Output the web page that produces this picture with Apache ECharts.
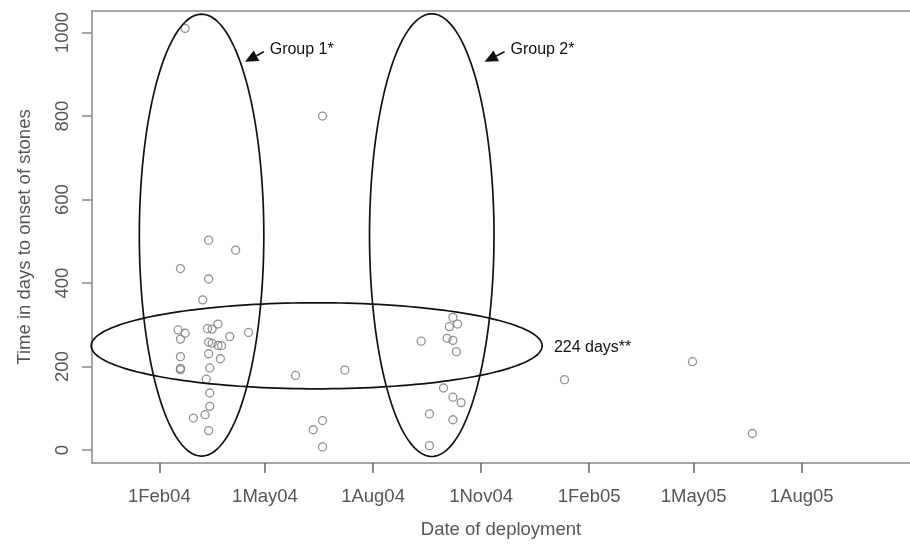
<!DOCTYPE html>
<html><head><meta charset="utf-8">
<script src="https://cdn.jsdelivr.net/npm/echarts@6/dist/echarts.min.js"></script>
<style>html,body{margin:0;padding:0;background:#fff;overflow:hidden}#c{width:910px;height:544px}</style>
</head><body><div id="c"></div>
<script>
// ---- data ----
const deployDates = [
 '2004-02-23','2004-06-19','2004-03-14','2004-04-06','2004-02-19','2004-03-14','2004-03-09','2004-03-22',
 '2004-02-17','2004-02-23','2004-03-13','2004-03-17','2004-02-19','2004-04-01','2004-04-17','2004-03-14',
 '2004-03-17','2004-03-22','2004-03-25','2004-02-19','2004-03-14','2004-03-24','2004-02-19','2004-02-19',
 '2004-03-15','2004-03-12','2004-03-15','2004-03-15','2004-03-11','2004-03-01','2004-03-14','2004-05-27',
 '2004-07-08','2004-06-19','2004-06-11','2004-06-19','2004-09-11','2004-10-08','2004-10-05','2004-10-12',
 '2004-10-03','2004-10-08','2004-10-11','2004-09-30','2004-10-08','2004-10-15','2004-09-18','2004-10-08',
 '2004-09-18','2005-01-11','2005-04-30','2005-06-20'
];
const daysToStones = [
 1010,800,503,479,435,410,360,302,
 288,280,291,290,266,272,282,259,
 256,251,250,224,231,219,196,193,
 197,170,137,105,85,77,47,179,
 192,71,49,8,261,318,296,302,
 268,263,236,149,127,114,87,73,
 11,169,212,40
];
const xTickDates = ['2004-02-01','2004-05-01','2004-08-01','2004-11-01','2005-02-01','2005-05-01','2005-08-01'];
const yTicks = [0,200,400,600,800,1000];
const ellipseCenters = [['2004-03-08',515],['2004-09-20',515],['2004-06-14',250]];
const ellipseHalfWidthDays = [53,53,192];
const ellipseHalfHeightValues = [529,530,103];
const annotationLabels = ['Group 1*','Group 2*','224 days**'];
const annotationTextAt = [['2004-05-05',959],['2004-11-26',959],['2005-01-02',246]];
const arrowTails = [['2004-04-30',954],['2004-11-21',954]];
const arrowTips = [['2004-04-14',930],['2004-11-04',930]];
const xAxisTitle = 'Date of deployment';
const yAxisTitle = 'Time in days to onset of stones';

// ---- helpers ----
const DAY = 86400000;
const t = s => Date.parse(s + 'T00:00:00Z');
const MON = ['Jan','Feb','Mar','Apr','May','Jun','Jul','Aug','Sep','Oct','Nov','Dec'];
const fmtDate = v => { const d = new Date(v); return d.getUTCDate() + MON[d.getUTCMonth()] + String(d.getUTCFullYear()).slice(2); };
const FONT = '"Liberation Sans", Arial, Helvetica, sans-serif';
const AX_FS = 18.5;
const FRAME = {show: true, onZero: false, lineStyle: {color: '#888', width: 1.5}};

const points = deployDates.map((d, i) => [t(d), daysToStones[i]]);
const ellipseData = ellipseCenters.map((c, i) => [t(c[0]), c[1], ellipseHalfWidthDays[i] * DAY, ellipseHalfHeightValues[i]]);
const annData = annotationLabels.map((s, i) => [t(annotationTextAt[i][0]), annotationTextAt[i][1], i]);

const xMin = t('2004-02-01') - 57.3 * DAY;
const xMax = t('2004-02-01') + 639.2 * DAY;

const chart = echarts.init(document.getElementById('c'), null, {renderer: 'canvas'});
chart.setOption({
  animation: false,
  backgroundColor: '#fff',
  grid: {left: 92, top: 11, right: 0, bottom: 81, show: false},
  xAxis: [{
    type: 'value', min: xMin, max: xMax, position: 'bottom',
    name: xAxisTitle, nameLocation: 'middle', nameGap: 57,
    nameTextStyle: {color: '#555', fontSize: AX_FS, fontFamily: FONT},
    axisLine: FRAME,
    splitLine: {show: false},
    axisTick: {show: true, length: 10, lineStyle: {color: '#666', width: 1.5}, customValues: xTickDates.map(t)},
    axisLabel: {customValues: xTickDates.map(t), formatter: v => fmtDate(v), color: '#555', fontSize: AX_FS, fontFamily: FONT, margin: 24, hideOverlap: false, showMinLabel: true, showMaxLabel: true}
  }, {
    type: 'value', min: xMin, max: xMax, position: 'top',
    axisLine: FRAME, axisTick: {show: false}, axisLabel: {show: false}, splitLine: {show: false}
  }],
  yAxis: {
    type: 'value', min: -30.6, max: 1051.6, position: 'left',
    name: yAxisTitle, nameLocation: 'middle', nameGap: 58, nameRotate: 90,
    nameTextStyle: {color: '#555', fontSize: AX_FS, fontFamily: FONT},
    axisLine: FRAME,
    splitLine: {show: false},
    axisTick: {show: true, length: 10, lineStyle: {color: '#888', width: 1.5}, customValues: yTicks},
    axisLabel: {customValues: yTicks, formatter: v => String(v), rotate: 90, color: '#555', fontSize: AX_FS, fontFamily: FONT, margin: 20}
  },
  series: [
    {
      type: 'scatter', data: points, symbol: 'circle', symbolSize: 8,
      itemStyle: {color: 'rgba(0,0,0,0)', borderColor: '#777', borderWidth: 1.3},
      z: 3
    },
    {
      type: 'custom', data: ellipseData, z: 4, silent: true,
      renderItem: (params, api) => {
        const c = api.coord([api.value(0), api.value(1)]);
        const sz = api.size([api.value(2), api.value(3)]);
        const pts = [];
        for (let k = 0; k < 180; k++) {
          const a = 2 * Math.PI * k / 180;
          pts.push([c[0] + sz[0] * Math.cos(a), c[1] + sz[1] * Math.sin(a)]);
        }
        return {type: 'polygon', shape: {points: pts}, style: {fill: 'none', stroke: '#111', lineWidth: 1.7}};
      }
    },
    {
      type: 'custom', data: annData, z: 5, silent: true,
      renderItem: (params, api) => {
        const i = api.value(2);
        const p = api.coord([api.value(0), api.value(1)]);
        const children = [{
          type: 'text', x: p[0], y: p[1],
          style: {text: annotationLabels[i], fill: '#111', font: '16px ' + FONT, textAlign: 'left', textVerticalAlign: 'middle'}
        }];
        if (i < arrowTails.length) {
          const a = api.coord([t(arrowTails[i][0]), arrowTails[i][1]]);
          const b = api.coord([t(arrowTips[i][0]), arrowTips[i][1]]);
          const dx = b[0] - a[0], dy = b[1] - a[1];
          const L = Math.hypot(dx, dy), ux = dx / L, uy = dy / L;
          const hl = 13, hw = 6;
          const base = [b[0] - ux * hl, b[1] - uy * hl];
          children.push({type: 'line', shape: {x1: a[0], y1: a[1], x2: base[0], y2: base[1]}, style: {stroke: '#111', lineWidth: 1.6}});
          children.push({type: 'polygon', shape: {points: [b, [base[0] - uy * hw, base[1] + ux * hw], [base[0] + uy * hw, base[1] - ux * hw]]}, style: {fill: '#111'}});
        }
        return {type: 'group', children};
      }
    }
  ]
});
</script></body></html>
